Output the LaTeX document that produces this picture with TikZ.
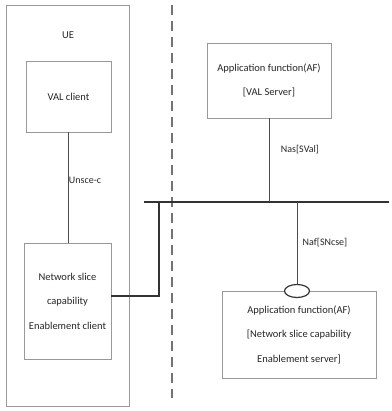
\documentclass[tikz,border=0pt]{standalone}
\usepackage{fontspec}
\setmainfont{Carlito}
\usetikzlibrary{shapes.geometric}
\begin{document}
\begin{tikzpicture}[x=1pt,y=-1pt,
  box/.style={draw=black!40,line width=0.8pt,rectangle,inner sep=0pt,align=center,text=black!85,font=\fontsize{10.5}{24.5}\selectfont},
  lbl/.style={text=black!85,font=\fontsize{10}{12}\selectfont,inner sep=0pt},
  conn/.style={draw=black!70,line width=0.9pt},
  thick conn/.style={draw=black!80,line width=1.6pt},
  iface/.style={draw=black!80,line width=1.2pt,ellipse,minimum width=25pt,minimum height=13pt,inner sep=0pt,fill=white}]
\useasboundingbox (0,0) rectangle (391,411);
\node[box,minimum width=123pt,minimum height=401pt] (ue) at (67.5,205.5) {};
\node[lbl,font=\fontsize{10.5}{12}\selectfont] (uelbl) at (68,35) {UE};
\node[box,minimum width=85pt,minimum height=71pt] (val) at (68.5,96.5) {VAL client};
\node[box,minimum width=87pt,minimum height=116pt] (nsc) at (67.5,301) {Network slice\\capability\\Enablement client};
\node[box,minimum width=124pt,minimum height=75pt] (afv) at (269,80.5) {Application function(AF)\\{}[VAL Server]};
\node[box,minimum width=154pt,minimum height=87pt] (afn) at (299,334.5) {Application function(AF)\\{}[Network slice capability\\Enablement server]};
% dashed separator
\coordinate (dtop) at (172,5);
\coordinate (dbot) at (172,398);
\draw[draw=black!55,line width=1.2pt,dash pattern=on 10pt off 6pt] (dtop) -- (dbot);
% bus
\coordinate (busL) at (144,202);
\coordinate (busR) at (389,202);
\coordinate (b1) at (159,202);
\coordinate (b2) at (297,202);
\draw[thick conn] (busL) -- (busR);
% interface ellipse
\node[iface] (ell) at (297,291) {};
% connectors
\draw[conn] (val.south) -- (val.south |- nsc.north);
\draw[thick conn] ([yshift=5pt]nsc.east) -| (b1);
\draw[conn] (afv.south) -- (afv.south |- busL);
\draw[conn] (b2) -- (ell.north);
% labels
\node[lbl] (l1) at (85,180) {Unsce-c};
\node[lbl] (l2) at (300,150) {Nas[SVal]};
\node[lbl] (l3) at (325,243) {Naf[SNcse]};
\end{tikzpicture}
\end{document}
